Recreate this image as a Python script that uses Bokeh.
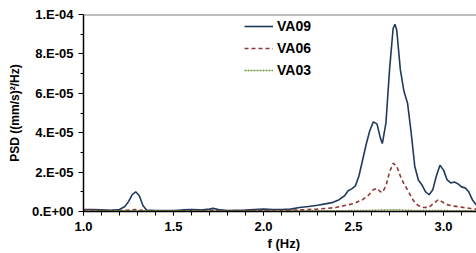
import numpy as np
from bokeh.plotting import figure
from bokeh.models import (Range1d, FixedTicker, CustomJSTickFormatter, Span, Title,
                          Legend, LegendItem)
from bokeh.embed import file_html
from bokeh.resources import INLINE

# ---- data (PSD values in units of 1e-5 (mm/s)^2/Hz) ----
freq_va09 = [1.00, 1.05, 1.10, 1.15, 1.20, 1.23, 1.25, 1.27, 1.29, 1.31, 1.33, 1.35, 1.40,
             1.50, 1.55, 1.60, 1.65, 1.70, 1.72, 1.75, 1.80, 1.90, 2.00, 2.05, 2.10, 2.15,
             2.20, 2.25, 2.30, 2.35, 2.38, 2.42, 2.45, 2.47, 2.49, 2.51, 2.53, 2.55, 2.57,
             2.59, 2.61, 2.63, 2.65, 2.66, 2.68, 2.70, 2.72, 2.73, 2.74, 2.76, 2.78, 2.80,
             2.82, 2.84, 2.86, 2.88, 2.90, 2.92, 2.94, 2.96, 2.98, 3.00, 3.02, 3.04, 3.06,
             3.08, 3.10, 3.12, 3.14, 3.16, 3.18, 3.20]
psd_va09 = [0.10, 0.10, 0.08, 0.06, 0.10, 0.25, 0.50, 0.85, 1.00, 0.80, 0.30, 0.08, 0.05,
            0.05, 0.08, 0.10, 0.08, 0.12, 0.16, 0.10, 0.05, 0.07, 0.12, 0.10, 0.10, 0.12,
            0.20, 0.25, 0.32, 0.40, 0.45, 0.60, 0.80, 1.05, 1.15, 1.30, 1.80, 2.60, 3.40,
            4.10, 4.55, 4.45, 3.70, 3.45, 4.50, 7.20, 9.30, 9.50, 9.20, 7.20, 6.10, 5.50,
            4.00, 2.30, 1.60, 1.35, 1.00, 0.85, 1.10, 1.80, 2.35, 2.10, 1.60, 1.45, 1.50,
            1.40, 1.25, 1.20, 1.00, 0.60, 0.35, 0.20]

freq_va06 = [1.00, 1.10, 1.20, 1.29, 1.35, 1.50, 1.70, 1.80, 2.00, 2.10, 2.20, 2.30, 2.40,
             2.45, 2.50, 2.55, 2.58, 2.61, 2.63, 2.65, 2.66, 2.68, 2.70, 2.72, 2.74, 2.76,
             2.78, 2.80, 2.82, 2.84, 2.86, 2.89, 2.92, 2.95, 2.97, 2.99, 3.02, 3.05, 3.10,
             3.15, 3.20]
psd_va06 = [0.08, 0.05, 0.04, 0.10, 0.03, 0.03, 0.05, 0.03, 0.06, 0.05, 0.08, 0.12, 0.20,
            0.30, 0.40, 0.60, 0.80, 1.10, 1.17, 1.00, 0.97, 1.30, 2.00, 2.45, 2.30, 1.80,
            1.40, 1.10, 0.75, 0.45, 0.30, 0.20, 0.22, 0.45, 0.60, 0.50, 0.35, 0.28, 0.22,
            0.15, 0.10]

freq_va03 = [1.00, 1.30, 1.70, 2.00, 2.40, 2.60, 2.72, 2.85, 3.00, 3.20]
psd_va03 = [0.03, 0.04, 0.03, 0.03, 0.04, 0.06, 0.09, 0.05, 0.05, 0.03]

UNIT = 1e-5
series_names = ["VA09", "VA06", "VA03"]
series_colors = ["#1F3A5F", "#943634", "#76923C"]

y_ticks = [0.0, 2e-5, 4e-5, 6e-5, 8e-5, 1e-4]
x_major = [1.0, 1.5, 2.0, 2.5, 3.0]

FONT = "Liberation Sans"

p = figure(width=476, height=253, output_backend="svg", toolbar_location=None,
           x_range=Range1d(1.0, 3.183), y_range=Range1d(0, 1e-4),
           min_border_left=83, min_border_right=0, min_border_top=14, min_border_bottom=42)
p.outline_line_color = None
p.grid.visible = False
p.background_fill_color = "white"
p.border_fill_color = "white"

r09 = p.line(freq_va09, np.array(psd_va09) * UNIT, line_color=series_colors[0], line_width=1.6)
r06 = p.line(freq_va06, np.array(psd_va06) * UNIT, line_color=series_colors[1], line_width=1.6,
             line_dash="4 3")
r03 = p.line(freq_va03, np.array(psd_va03) * UNIT, line_color=series_colors[2], line_width=1.4,
             line_dash="2 1")

# top border line
p.add_layout(Span(location=1e-4, dimension="width", line_color="#7F7F7F", line_width=2))

# x axis
xa = p.xaxis[0]
xa.ticker = FixedTicker(ticks=x_major, minor_ticks=[round(1.0 + 0.1 * i, 2) for i in range(22)])
xa.formatter = CustomJSTickFormatter(code="return tick.toFixed(1);")
xa.major_tick_in = 0
xa.major_tick_out = 4
xa.minor_tick_in = 0
xa.minor_tick_out = 4
xa.axis_line_color = "black"
xa.axis_line_width = 1.5
xa.major_tick_line_color = "black"
xa.minor_tick_line_color = "black"
xa.major_label_text_font = FONT
xa.major_label_text_font_style = "bold"
xa.major_label_text_font_size = "13px"
xa.major_label_text_color = "black"
xa.major_label_standoff = 6

# y axis
ya = p.yaxis[0]
ya.ticker = FixedTicker(ticks=y_ticks, minor_ticks=[1e-5, 3e-5, 5e-5, 7e-5, 9e-5])
ya.formatter = CustomJSTickFormatter(code="""
    const s = tick.toExponential(0);
    const parts = s.split('e');
    const sign = parts[1][0];
    const d = parts[1].slice(1).padStart(2, '0');
    return parts[0] + '.E' + sign + d;
""")
ya.major_tick_in = 0
ya.major_tick_out = 5
ya.minor_tick_in = 0
ya.minor_tick_out = 3
ya.axis_line_color = "black"
ya.axis_line_width = 1.5
ya.major_tick_line_color = "black"
ya.minor_tick_line_color = "black"
ya.major_label_text_font = FONT
ya.major_label_text_font_style = "bold"
ya.major_label_text_font_size = "13px"
ya.major_label_text_color = "black"
ya.major_label_standoff = 5
ya.axis_label = "PSD ((mm/s)²/Hz)"
ya.axis_label_text_font = FONT
ya.axis_label_text_font_style = "bold"
ya.axis_label_text_font_size = "12px"
ya.axis_label_text_color = "black"
ya.axis_label_standoff = 7

# x axis label
p.add_layout(Title(text="f (Hz)", align="left", offset=184, standoff=0,
                   text_font=FONT, text_font_style="bold", text_font_size="13px",
                   text_color="black"), "below")

legend = Legend(items=[LegendItem(label=series_names[0], renderers=[r09]),
                       LegendItem(label=series_names[1], renderers=[r06]),
                       LegendItem(label=series_names[2], renderers=[r03])],
                location=(161, 131), orientation="vertical")
legend.background_fill_alpha = 0
legend.border_line_color = None
legend.padding = 0
legend.margin = 0
legend.spacing = 2
legend.glyph_width = 29
legend.glyph_height = 20
legend.label_height = 20
legend.label_standoff = 4
legend.label_text_font = FONT
legend.label_text_font_style = "bold"
legend.label_text_font_size = "14px"
legend.label_text_color = "black"
p.add_layout(legend)

open("out.html", "w").write(file_html(p, INLINE))
